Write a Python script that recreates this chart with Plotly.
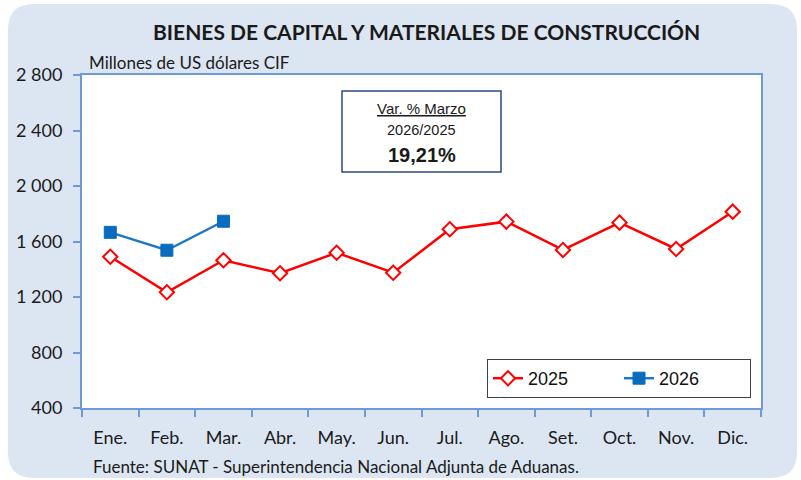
import plotly.graph_objects as go

# Monthly imports of capital goods and construction materials (millions of US$ CIF)
months = ["Ene.", "Feb.", "Mar.", "Abr.", "May.", "Jun.", "Jul.", "Ago.", "Set.", "Oct.", "Nov.", "Dic."]
values_2025 = [1490, 1234, 1465, 1371, 1519, 1375, 1688, 1743, 1539, 1736, 1546, 1815]
values_2026 = [1666, 1537, 1746]
y_ticks = [400, 800, 1200, 1600, 2000, 2400, 2800]
y_tick_labels = ["400", "800", "1 200", "1 600", "2 000", "2 400", "2 800"]

W, H = 801, 480
L, R, T, B = 82, 40, 75, 72
pw, ph = W - L - R, H - T - B


def px(x):
    return (x - L) / pw


def py(y):
    return (H - B - y) / ph


CAL = "Lato, Open Sans, sans-serif"
ARIAL = "Liberation Sans, Arial, sans-serif"
AXIS_BLUE = "#6f9ad8"

fig = go.Figure()
fig.add_trace(go.Scatter(
    x=months, y=values_2025, name="2025", mode="lines+markers",
    line=dict(color="#ff0000", width=2.5),
    marker=dict(symbol="diamond", size=11, color="white", line=dict(color="#ff0000", width=2)),
))
fig.add_trace(go.Scatter(
    x=months[:len(values_2026)], y=values_2026, name="2026", mode="lines+markers",
    line=dict(color="#1f77c4", width=2.5),
    marker=dict(symbol="square", size=12, color="#0a6cbf", line=dict(color="#0a6cbf", width=1)),
))

# rounded light-blue panel behind the chart
x0, x1, y0, y1, r = 8, 797, 4, 478, 26
rx, ry = r / pw, r / ph
X0, X1, Y0, Y1 = px(x0), px(x1), py(y1), py(y0)
path = (f"M {X0 + rx} {Y1} L {X1 - rx} {Y1} Q {X1} {Y1} {X1} {Y1 - ry} "
        f"L {X1} {Y0 + ry} Q {X1} {Y0} {X1 - rx} {Y0} L {X0 + rx} {Y0} "
        f"Q {X0} {Y0} {X0} {Y0 + ry} L {X0} {Y1 - ry} Q {X0} {Y1} {X0 + rx} {Y1} Z")
shapes = [
    dict(type="path", path=path, xref="paper", yref="paper", fillcolor="#dce6f2",
         line=dict(width=0), layer="below"),
    dict(type="rect", x0=0, x1=1, y0=0, y1=1, xref="paper", yref="paper",
         fillcolor="white", line=dict(width=0), layer="below"),
    # variation box
    dict(type="rect", x0=px(342), x1=px(501), y0=py(172), y1=py(91), xref="paper", yref="paper",
         fillcolor="white", line=dict(color="#2e4a7d", width=1.5)),
]


def label(text, x, y, size, family=CAL, xanchor="center"):
    return dict(text=text, x=px(x), y=py(y), xref="paper", yref="paper",
                xanchor=xanchor, yanchor="middle", showarrow=False,
                font=dict(family=family, size=size, color="#1a1a1a"))


annotations = [
    label("<b>BIENES DE CAPITAL Y MATERIALES DE CONSTRUCCIÓN</b>", 426, 32, 21),
    label("Millones de US dólares CIF", 87, 62, 17, xanchor="left"),
    label("<u>Var. % Marzo</u>", 421.5, 108, 15, ARIAL),
    label("2026/2025", 421.5, 130, 14.5, ARIAL),
    label("<b>19,21%</b>", 421.5, 155, 20, ARIAL),
    label("Fuente: SUNAT - Superintendencia Nacional Adjunta de Aduanas.", 91, 466, 17, xanchor="left"),
]

fig.update_layout(
    width=W, height=H, margin=dict(l=L, r=R, t=T, b=B, autoexpand=False),
    paper_bgcolor="white", plot_bgcolor="rgba(0,0,0,0)",
    shapes=shapes, annotations=annotations,
    showlegend=True,
    legend=dict(orientation="h", x=px(487), y=py(359), xanchor="left", yanchor="top",
                bgcolor="white", bordercolor="#404040", borderwidth=1,
                font=dict(family=ARIAL, size=18, color="#111"),
                entrywidth=86),
)
fig.update_xaxes(
    type="category", range=[-0.5, len(months) - 0.5], tickson="boundaries",
    ticks="outside", ticklen=7, tickcolor=AXIS_BLUE,
    tickwidth=1.5, showline=True, linecolor=AXIS_BLUE, linewidth=2, mirror=True,
    showgrid=False, ticklabelstandoff=12,
    tickfont=dict(family=CAL, size=18, color="#1a1a1a"),
)
fig.update_yaxes(
    range=[400, 2800], tickvals=y_ticks, ticktext=y_tick_labels, ticks="outside", ticklen=7,
    tickcolor=AXIS_BLUE, tickwidth=1.5, showline=True, linecolor=AXIS_BLUE, linewidth=2,
    mirror=True, showgrid=False, zeroline=False, ticklabelstandoff=7,
    tickfont=dict(family=CAL, size=18, color="#1a1a1a"),
)

fig.write_html("out.html")
